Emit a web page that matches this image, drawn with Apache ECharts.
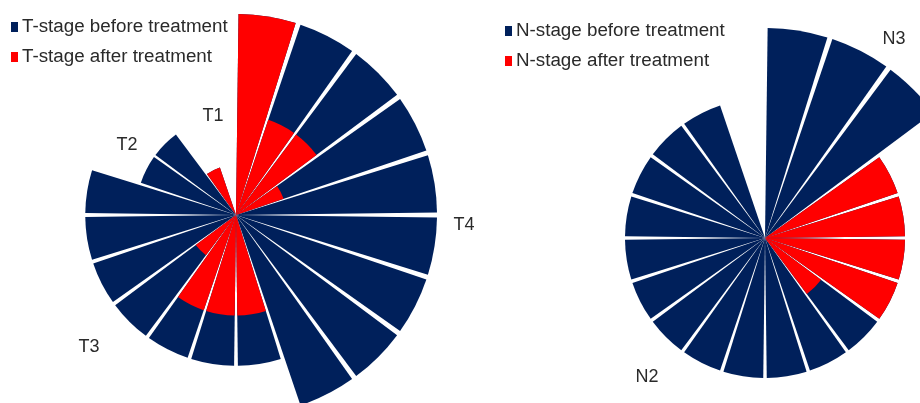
<!DOCTYPE html>
<html>
<head>
<meta charset="utf-8">
<script src="https://cdn.jsdelivr.net/npm/echarts@6/dist/echarts.min.js"></script>
<style>
html,body{margin:0;padding:0;background:#fff;}
#chart{width:920px;height:403px;}
</style>
</head>
<body>
<div id="chart"></div>
<script>
// Patients (one sector each)
var patients = ['1','2','3','4','5','6','7','8','9','10','11','12','13','14','15','16','17','18','19','20'];

// T-stage (0 = none, 1..4 = T1..T4)
var tBefore = [4,4,4,4,4,4,4,4,4,3,3,3,3,3,3,3,2,2,1,0];
var tAfter  = [4,2,2,1,0,0,0,0,0,2,2,2,1,0,0,0,0,0,1,0];

// N-stage (0 = none, 1..3 = N1..N3)
var nBefore = [3,3,3,2,2,2,2,2,2,2,2,2,2,2,2,2,2,2,2,0];
var nAfter  = [0,0,0,2,2,2,2,1,0,0,0,0,0,0,0,0,0,0,0,0];

var tNames = ['T-stage before treatment', 'T-stage after treatment'];
var nNames = ['N-stage before treatment', 'N-stage after treatment'];

var tLabels = ['T1','T2','T3','T4'];
var nLabels = ['N2','N3'];

var NAVY = '#00205b';
var RED = '#ff0000';
var TXT = '#2a2a2a';
var FONT = '"Liberation Sans", Arial, sans-serif';

var chart = echarts.init(document.getElementById('chart'), null, {renderer: 'canvas'});

function angleAx(idx) {
  return {
    polarIndex: idx, type: 'category', data: patients, startAngle: 90, clockwise: true,
    boundaryGap: true,
    axisLine: {show: false}, axisTick: {show: false}, axisLabel: {show: false},
    splitLine: {show: false}, splitArea: {show: false}
  };
}
function radiusAx(idx, max) {
  return {
    polarIndex: idx, type: 'value', min: 0, max: max,
    axisLine: {show: false}, axisTick: {show: false}, axisLabel: {show: false},
    splitLine: {show: false}, splitArea: {show: false}
  };
}
function bar(name, data, idx, color) {
  return {
    name: name, type: 'bar', coordinateSystem: 'polar', polarIndex: idx,
    data: data, barGap: '-100%', barCategoryGap: '8%',
    itemStyle: {color: color}, silent: true
  };
}
function txt(t, x, y) {
  return {
    type: 'text', x: x, y: y, silent: true,
    style: {text: t, textAlign: 'center', textVerticalAlign: 'middle',
            font: '18px ' + FONT, fill: TXT}
  };
}
function legend(names, left, top) {
  return {
    data: names, orient: 'vertical', left: left, top: top, padding: 0,
    icon: 'rect', itemWidth: 7, itemHeight: 10, itemGap: 10,
    selectedMode: false,
    textStyle: {fontSize: 18.8, fontFamily: FONT, color: TXT, lineHeight: 20, padding: [0,0,0,-1]}
  };
}

chart.setOption({
  animation: false,
  backgroundColor: '#fff',
  polar: [
    {center: [236, 215], radius: 201},
    {center: [765, 238], radius: 210}
  ],
  angleAxis: [angleAx(0), angleAx(1)],
  radiusAxis: [radiusAx(0, 4), radiusAx(1, 3)],
  legend: [legend(tNames, 11, 17), legend(nNames, 505, 21)],
  series: [
    bar(tNames[0], tBefore, 0, NAVY),
    bar(tNames[1], tAfter, 0, RED),
    bar(nNames[0], nBefore, 1, NAVY),
    bar(nNames[1], nAfter, 1, RED)
  ],
  graphic: [
    txt(tLabels[0], 213, 116),
    txt(tLabels[1], 127, 145),
    txt(tLabels[2], 89, 347),
    txt(tLabels[3], 464, 225),
    txt(nLabels[0], 647, 377),
    txt(nLabels[1], 894, 39)
  ]
});
</script>
</body>
</html>
